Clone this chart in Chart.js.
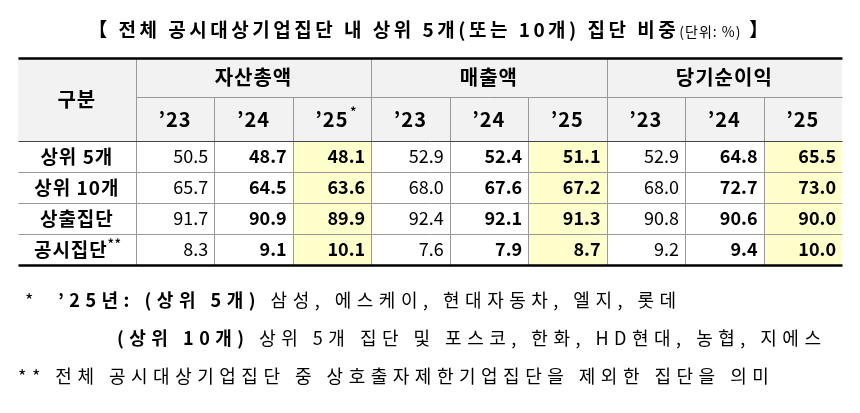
<!DOCTYPE html>
<html><head><meta charset="utf-8">
<script src="https://cdn.jsdelivr.net/npm/chart.js@4"></script>
<style>html,body{margin:0;background:#fff}#wrap{width:860px;height:413px}</style>
</head><body><div id="wrap"><canvas id="c"></canvas></div>
<script>
// table data
const groups = ["자산총액", "매출액", "당기순이익"];
const years = ["’23", "’24", "’25", "’23", "’24", "’25", "’23", "’24", "’25"];
const rowLabels = ["상위 5개", "상위 10개", "상출집단", "공시집단"];
const top5 = [50.5, 48.7, 48.1, 52.9, 52.4, 51.1, 52.9, 64.8, 65.5];
const top10 = [65.7, 64.5, 63.6, 68.0, 67.6, 67.2, 68.0, 72.7, 73.0];
const sangchul = [91.7, 90.9, 89.9, 92.4, 92.1, 91.3, 90.8, 90.6, 90.0];
const gongsi = [8.3, 9.1, 10.1, 7.6, 7.9, 8.7, 9.2, 9.4, 10.0];
const rows = [top5, top10, sangchul, gongsi];

// grid geometry in scale units
const xEdges = [0, 1.5, 2.5, 3.5, 4.5, 5.5, 6.5, 7.5, 8.5, 9.5, 10.5];
const yEdges = [0, 39, 83, 114, 145, 176, 207];

const FONT = '"Noto Sans CJK KR", "Noto Sans", sans-serif';

const tablePlugin = {
  id: "table",
  afterDraw(chart) {
    const ctx = chart.ctx, X = chart.scales.x, Y = chart.scales.y;
    const px = v => X.getPixelForValue(v), py = v => Y.getPixelForValue(v);
    ctx.save();
    ctx.fillStyle = "#f2f2f2";
    ctx.fillRect(px(0), py(0), px(10.5) - px(0), py(83) - py(0));
    ctx.fillStyle = "#ffffcc";
    [3, 6, 9].forEach(c => ctx.fillRect(px(xEdges[c]), py(83), px(xEdges[c + 1]) - px(xEdges[c]), py(207) - py(83)));
    ctx.strokeStyle = "#999"; ctx.lineWidth = 1;
    const line = (x1, y1, x2, y2) => { ctx.beginPath(); ctx.moveTo(Math.round(x1) + .5, Math.round(y1) + .5); ctx.lineTo(Math.round(x2) + .5, Math.round(y2) + .5); ctx.stroke(); };
    line(px(1.5), py(39), px(10.5), py(39));
    for (let r = 3; r < 6; r++) line(px(0), py(yEdges[r]), px(10.5), py(yEdges[r]));
    for (let c = 1; c < 10; c++) {
      const top = (c - 1) % 3 === 0 ? 0 : 39;
      line(px(xEdges[c]), py(top), px(xEdges[c]), py(207));
    }
    ctx.strokeStyle = "#444";
    line(px(0), py(83), px(10.5), py(83));
    ctx.strokeStyle = "#000"; ctx.lineWidth = 2.5;
    line(px(0), py(0), px(10.5), py(0));
    line(px(0), py(207), px(10.5), py(207));

    ctx.fillStyle = "#000"; ctx.textBaseline = "middle"; ctx.textAlign = "center";
    ctx.font = "bold 20px " + FONT;
    ctx.letterSpacing = "1px";
    ctx.fillText("구분", px(0.75), py(41.5));
    groups.forEach((g, i) => ctx.fillText(g, px(1.5 + i * 3 + 1.5), py(19.5)));
    years.forEach((y, i) => ctx.fillText(y, px(2 + i), py(61)));
    ctx.font = "bold 12px " + FONT;
    ctx.fillText("*", px(2 + 2) + 22, py(53));
    ctx.font = "bold 19px " + FONT;
    rowLabels.forEach((l, r) => {
      const yc = py((yEdges[r + 2] + yEdges[r + 3]) / 2);
      ctx.font = "bold 19px " + FONT;
      ctx.fillText(l, px(0.75) - (r === 3 ? 6 : 0), yc);
      if (r === 3) {
        const w = ctx.measureText(l).width;
        ctx.font = "bold 12px " + FONT;
        ctx.fillText("**", px(0.75) - 6 + w / 2 + 7, yc - 6);
      }
    });
    ctx.letterSpacing = "0px";
    ctx.textAlign = "right";
    rows.forEach((vals, r) => {
      const yc = py((yEdges[r + 2] + yEdges[r + 3]) / 2);
      vals.forEach((v, i) => {
        ctx.font = (i % 3 === 0 ? "" : "bold ") + "18px " + FONT;
        ctx.fillText(v.toFixed(1), px(xEdges[i + 2]) - 6, yc);
      });
    });
    // title
    ctx.textAlign = "left";
    ctx.letterSpacing = "3.5px";
    const t1 = "【 전체 공시대상기업집단 내 상위 5개(또는 10개) 집단 비중", t2 = "(단위: %)", t3 = " 】";
    ctx.font = "bold 19px " + FONT; const w1 = ctx.measureText(t1).width, w3 = ctx.measureText(t3).width;
    ctx.letterSpacing = "1px";
    ctx.font = "14px " + FONT; const w2 = ctx.measureText(t2).width;
    let x = 430 - (w1 + w2 + w3) / 2;
    ctx.letterSpacing = "3.5px";
    ctx.font = "bold 19px " + FONT; ctx.fillText(t1, x, 30); x += w1;
    ctx.letterSpacing = "1px";
    ctx.font = "14px " + FONT; ctx.fillText(t2, x, 32); x += w2;
    ctx.letterSpacing = "3.5px";
    ctx.font = "bold 19px " + FONT; ctx.fillText(t3, x, 30);
    // footnotes
    ctx.letterSpacing = "5.5px";
    const seg = (parts, x0, y0) => {
      let xx = x0;
      parts.forEach(([s, b]) => { ctx.font = (b ? "bold " : "") + "18px " + FONT; ctx.fillText(s, xx, y0); xx += ctx.measureText(s).width; });
    };
    seg([["*  ", false], ["’25년: (상위 5개)", true], [" 삼성, 에스케이, 현대자동차, 엘지, 롯데", false]], 25, 300);
    seg([["(상위 10개)", true], [" 상위 5개 집단 및 포스코, 한화, HD현대, 농협, 지에스", false]], 117, 338);
    seg([["** 전체 공시대상기업집단 중 상호출자제한기업집단을 제외한 집단을 의미", false]], 18, 376);
    ctx.restore();
  }
};

new Chart(document.getElementById("c"), {
  type: "scatter",
  data: { datasets: [{ data: [], pointRadius: 0 }] },
  options: {
    responsive: true, maintainAspectRatio: false, animation: false,
    layout: { padding: { left: 18, right: 18, top: 58, bottom: 148 } },
    plugins: { legend: { display: false }, tooltip: { enabled: false } },
    scales: {
      x: { type: "linear", min: 0, max: 10.5, display: false },
      y: { type: "linear", min: 0, max: 207, reverse: true, display: false }
    }
  },
  plugins: [tablePlugin]
});
</script></body></html>
